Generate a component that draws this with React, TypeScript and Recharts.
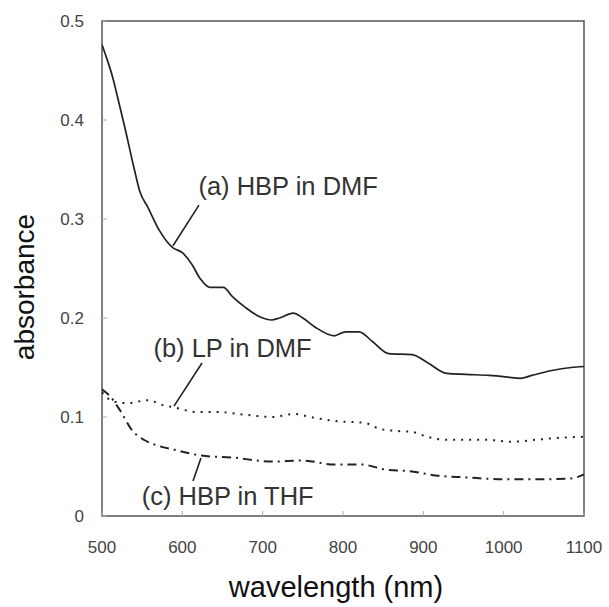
import React from 'react';
import { LineChart, Line, XAxis, YAxis, ReferenceArea, ReferenceLine, ReferenceDot, Label } from 'recharts';

// (a) HBP in DMF
const hbpDmfWl = [500, 506, 513, 520, 528, 540, 547, 557, 571, 588, 600, 612, 622, 634, 651, 663, 678, 697, 711, 721, 738, 750, 765, 789, 803, 820, 837, 857, 886, 905, 929, 953, 982, 997, 1007, 1021, 1035, 1060, 1084, 1100];
const hbpDmfAbs = [0.476, 0.462, 0.444, 0.421, 0.394, 0.351, 0.328, 0.312, 0.289, 0.271, 0.266, 0.254, 0.240, 0.231, 0.231, 0.221, 0.211, 0.201, 0.198, 0.2, 0.205, 0.2, 0.191, 0.182, 0.186, 0.186, 0.176, 0.164, 0.163, 0.155, 0.144, 0.143, 0.142, 0.141, 0.14, 0.139, 0.142, 0.147, 0.15, 0.151];

// (b) LP in DMF
const lpDmfWl = [500, 513, 532, 557, 576, 588, 619, 643, 682, 711, 740, 759, 789, 827, 846, 866, 886, 905, 929, 977, 1011, 1040, 1069, 1100];
const lpDmfAbs = [0.125, 0.116, 0.114, 0.117, 0.112, 0.11, 0.105, 0.105, 0.102, 0.1, 0.103, 0.1, 0.096, 0.094, 0.088, 0.086, 0.085, 0.08, 0.077, 0.077, 0.075, 0.077, 0.079, 0.08];

// (c) HBP in THF
const hbpThfWl = [500, 511, 523, 537, 552, 566, 590, 624, 663, 711, 750, 789, 823, 852, 886, 915, 953, 1001, 1040, 1084, 1100];
const hbpThfAbs = [0.128, 0.12, 0.106, 0.087, 0.077, 0.072, 0.067, 0.061, 0.059, 0.055, 0.056, 0.052, 0.052, 0.047, 0.045, 0.041, 0.039, 0.037, 0.037, 0.038, 0.042];

const xTicks = [500, 600, 700, 800, 900, 1000, 1100];
const yTicks = [0, 0.1, 0.2, 0.3, 0.4, 0.5];

// annotations: label text, text anchor point, leader start, leader end (data units)
const annLabels = ['(a) HBP in DMF', '(b) LP in DMF', '(c) HBP in THF'];
const annTextPos = [[620, 0.324], [564, 0.1606], [549.5, 0.0111]];
const annLeaders = [
  [[620.7, 0.314], [588.4, 0.273]],
  [[624.5, 0.1545], [589.6, 0.111]],
  [[623.2, 0.0586], [613.3, 0.0354]],
];

const toPts = (wl: number[], ab: number[]) => wl.map((w, i) => ({ w, a: ab[i] }));
const seriesA = toPts(hbpDmfWl, hbpDmfAbs);
const seriesB = toPts(lpDmfWl, lpDmfAbs);
const seriesC = toPts(hbpThfWl, hbpThfAbs);

const FONT = 'Liberation Sans, Arial, sans-serif';

const XTick = (props: any) => {
  const { x, y, payload } = props;
  return (
    <g>
      <line x1={x} x2={x} y1={y} y2={y - 5} stroke="#aaa" strokeWidth={1} />
      <text x={x} y={y + 37} textAnchor="middle" fontSize={17} fill="#444" fontFamily={FONT}>
        {payload.value}
      </text>
    </g>
  );
};

const YTick = (props: any) => {
  const { x, y, payload } = props;
  const v = payload.value;
  return (
    <g>
      <line x1={x} x2={x + 5} y1={y} y2={y} stroke="#aaa" strokeWidth={1} />
      <text x={x - 18} y={y + 6} textAnchor="end" fontSize={17} fill="#444" fontFamily={FONT}>
        {v === 0 ? '0' : v.toFixed(1)}
      </text>
    </g>
  );
};

const AnnText = (label: string) => (p: any) => (
  <text x={p.cx} y={p.cy} fontSize={25.5} fill="#333" fontFamily={FONT}>
    {label}
  </text>
);

export default function App() {
  return (
    <div style={{ position: 'absolute', left: 0, top: 0, background: '#fff' }}>
      <LineChart width={609} height={607} margin={{ top: 21, right: 25, bottom: 0, left: 0 }}>
        <XAxis
          dataKey="w"
          type="number"
          domain={[500, 1100]}
          ticks={xTicks}
          allowDataOverflow
          axisLine={false}
          tickLine={false}
          tickSize={0}
          tickMargin={0}
          height={91}
          tick={<XTick />}
        >
          <Label
            content={(p: any) => {
              const vb = p.viewBox;
              return (
                <text x={vb.x + vb.width / 2 - 7} y={vb.y + 81} textAnchor="middle" fontSize={29} fill="#111" fontFamily={FONT}>
                  wavelength (nm)
                </text>
              );
            }}
          />
        </XAxis>
        <YAxis
          dataKey="a"
          type="number"
          domain={[0, 0.5]}
          ticks={yTicks}
          allowDataOverflow
          axisLine={false}
          tickLine={false}
          tickSize={0}
          tickMargin={0}
          width={102}
          tick={<YTick />}
        >
          <Label
            content={(p: any) => {
              const vb = p.viewBox;
              const cx = 34;
              const cy = vb.y + 266;
              return (
                <text x={cx} y={cy} transform={`rotate(-90 ${cx} ${cy})`} textAnchor="middle" fontSize={28} fill="#111" fontFamily={FONT}>
                  absorbance
                </text>
              );
            }}
          />
        </YAxis>
        <ReferenceArea x1={500} x2={1100} y1={0} y2={0.5} fill="none" stroke="#555" strokeWidth={1.5} />
        <Line data={seriesA} dataKey="a" stroke="#222" strokeWidth={1.7} dot={false} isAnimationActive={false} type="monotone" />
        <Line data={seriesB} dataKey="a" stroke="#222" strokeWidth={2} strokeDasharray="2 6" dot={false} isAnimationActive={false} type="monotone" />
        <Line data={seriesC} dataKey="a" stroke="#222" strokeWidth={2} strokeDasharray="9 5 2 5" dot={false} isAnimationActive={false} type="monotone" />
        {annLeaders.map((seg, i) => (
          <ReferenceLine
            key={'l' + i}
            segment={[{ x: seg[0][0], y: seg[0][1] }, { x: seg[1][0], y: seg[1][1] }]}
            stroke="#222"
            strokeWidth={1.6}
          />
        ))}
        {annLabels.map((lab, i) => (
          <ReferenceDot key={'t' + i} x={annTextPos[i][0]} y={annTextPos[i][1]} r={0} shape={AnnText(lab)} />
        ))}
      </LineChart>
    </div>
  );
}
